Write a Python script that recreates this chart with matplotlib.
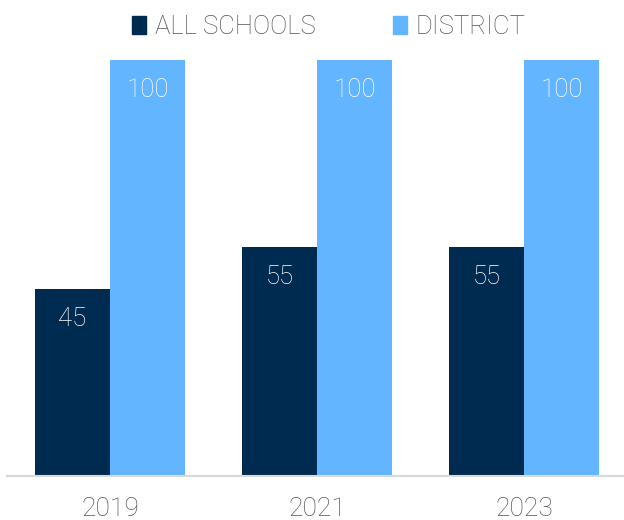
import matplotlib
matplotlib.use("Agg")
import matplotlib.pyplot as plt
from matplotlib.patches import Patch
import numpy as np

years = ["2019", "2021", "2023"]
all_schools = [45, 55, 55]
district = [100, 100, 100]
series_names = ["ALL SCHOOLS", "DISTRICT"]
colors = ["#002B50", "#63B5FF"]

plt.rcParams['font.family'] = ['Roboto', 'DejaVu Sans']
W = 'light'

fig = plt.figure(figsize=(6.24, 5.2), dpi=100)
ax = fig.add_axes([7/624, 44/520, 1 - 7/624, 0.8])

x = np.arange(len(years))
w = 75/207
b1 = ax.bar(x - w/2, all_schools, w, color=colors[0], label=series_names[0])
b2 = ax.bar(x + w/2, district, w, color=colors[1], label=series_names[1])

for bars, vals in [(b1, all_schools), (b2, district)]:
    for r, v in zip(bars, vals):
        ax.annotate(str(v), (r.get_x() + r.get_width()/2, r.get_height()),
                    xytext=(0, -21.5), textcoords='offset points',
                    ha='center', va='center', color='white', fontsize=18.5,
                    fontweight=W)

ax.set_xlim((7-110)/207, (624-110)/207)
ax.set_ylim(0, 100)
ax.set_xticks(x)
ax.set_xticklabels(years, fontsize=19, color='#555555', fontweight=W)
ax.tick_params(axis='x', length=0, pad=15)
ax.set_yticks([])
for s in ['top', 'right', 'left']:
    ax.spines[s].set_visible(False)
ax.spines['bottom'].set_color('#D9D9D9')
ax.spines['bottom'].set_linewidth(1.5)

handles = [Patch(color=colors[0]), Patch(color=colors[1])]
leg = fig.legend(handles, series_names, loc='center', bbox_to_anchor=(0.527, 1 - 27/520),
                 ncol=2, frameon=False, handlelength=0.55, handleheight=0.65,
                 handletextpad=0.35, columnspacing=3.0, labelcolor='#555555',
                 prop={'size': 18.5, 'weight': W})

fig.savefig("out.png", dpi=100)
